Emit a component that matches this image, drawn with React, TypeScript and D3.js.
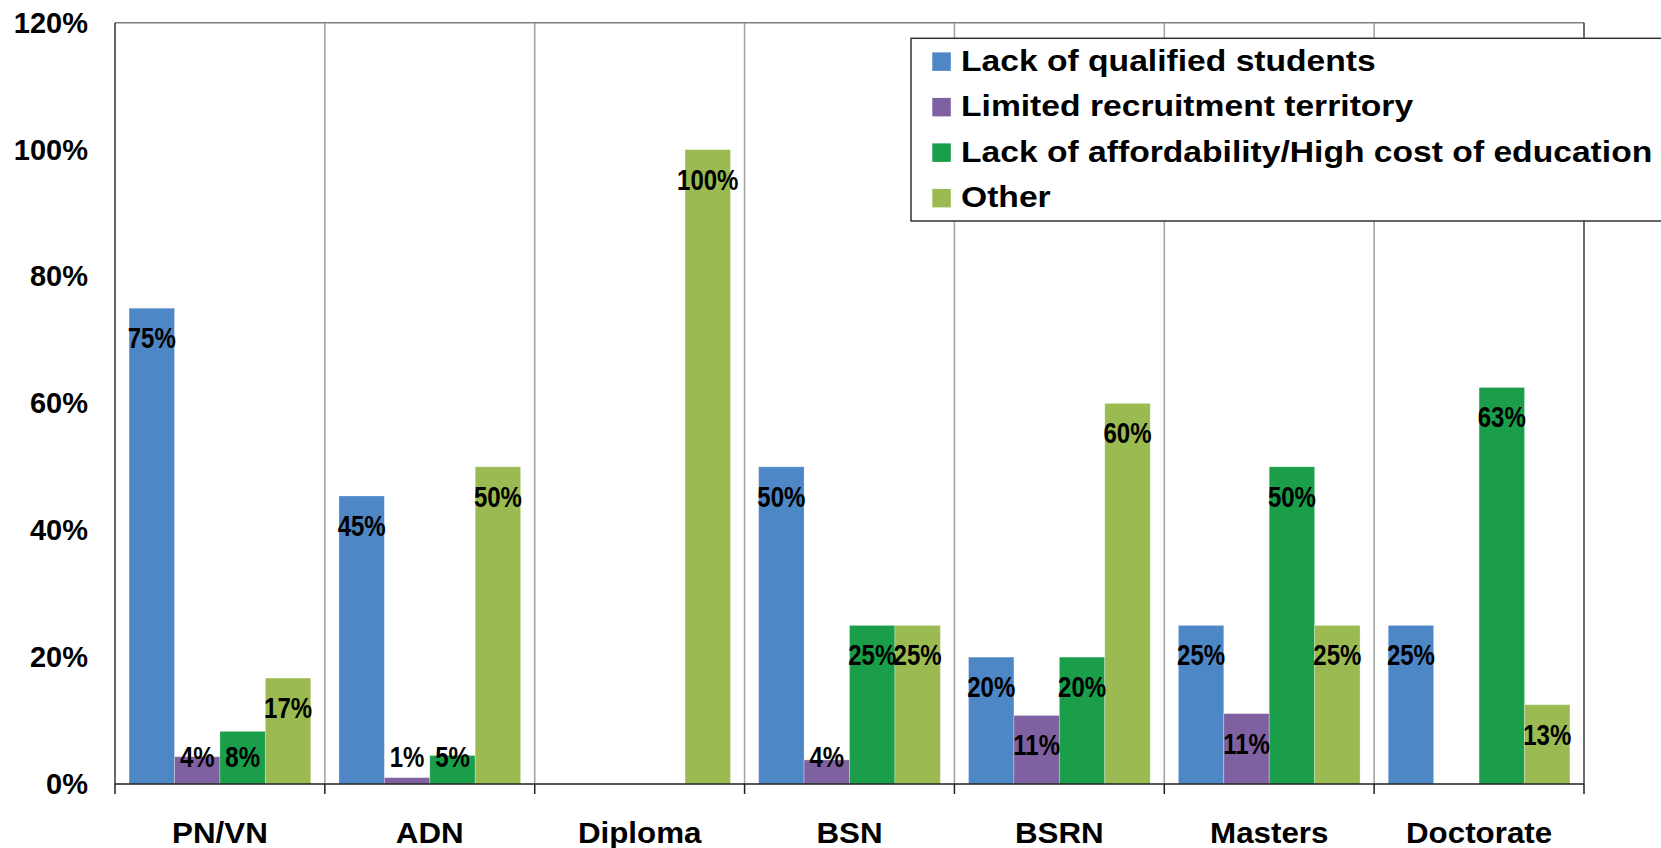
import {useMemo} from "react";
import * as d3 from "d3";

const WIDTH = 1661;
const HEIGHT = 848;
const PLOT = {left: 115, right: 1584, top: 22.7, bottom: 784};

const categories = ["PN/VN", "ADN", "Diploma", "BSN", "BSRN", "Masters", "Doctorate"];
const seriesNames = [
    "Lack of qualified students",
    "Limited recruitment territory",
    "Lack of affordability/High cost of education",
    "Other",
];
const seriesColors = ["#4e87c6", "#7f60a1", "#1a9e4a", "#9bbb52"];

// percent values per degree type (null = no bar)
const lackQualified = [75, 45.4, null, 50, 20, 25, 25];
const limitedTerritory = [4.3, 1.0, null, 3.8, 10.8, 11.1, null];
const affordability = [8.3, 4.5, null, 25, 20, 50, 62.5];
const other = [16.7, 50, 100, 25, 60, 25, 12.5];

const yTicks = [0, 20, 40, 60, 80, 100, 120];

const FONT = "'Liberation Sans', Arial, sans-serif";

export default function App() {
    const seriesValues = [lackQualified, limitedTerritory, affordability, other];

    const x0 = useMemo(() => d3.scaleBand()
        .domain(categories)
        .range([PLOT.left, PLOT.right])
        .paddingInner(0)
        .paddingOuter(0), []);

    const x1 = useMemo(() => d3.scaleBand()
        .domain(seriesNames)
        .range([0, x0.bandwidth()])
        .paddingInner(0)
        .paddingOuter(0.31), [x0]);

    const y = d3.scaleLinear().domain([0, 120]).range([PLOT.bottom, PLOT.top]);

    const boundaries = d3.range(categories.length + 1).map((i) => PLOT.left + i * x0.step());

    const bars = seriesNames.flatMap((name, si) =>
        categories.map((cat, ci) => {
            const v = seriesValues[si][ci];
            if (v === null || v === undefined) return null;
            const bx = (x0(cat) ?? 0) + (x1(name) ?? 0);
            return (
                <rect key={`${si}-${ci}`} x={bx} y={y(v)} width={x1.bandwidth()}
                      height={y(0) - y(v)} fill={seriesColors[si]}
                      stroke="#ffffff" strokeOpacity={0.35} strokeWidth={0.8}/>
            );
        }));

    // labels sit inside the bar end, pushed up when the bar is too short
    const labels = seriesNames.flatMap((name, si) =>
        categories.map((cat, ci) => {
            const v = seriesValues[si][ci];
            if (v === null || v === undefined) return null;
            const cx = (x0(cat) ?? 0) + (x1(name) ?? 0) + x1.bandwidth() / 2;
            const by = Math.min(y(v) + 40, PLOT.bottom - 17);
            return (
                <text key={`l-${si}-${ci}`} transform={`translate(${cx},${by}) scale(0.8,1)`}
                      textAnchor="middle" fontFamily={FONT} fontWeight="bold" fontSize={30} fill="#000">
                    {Math.round(v)}%
                </text>
            );
        }));

    return (
        <svg width={WIDTH} height={HEIGHT} style={{position: "absolute", left: 0, top: 0}}>
            <rect x={0} y={0} width={WIDTH} height={HEIGHT} fill="#fff"/>

            {/* vertical category separators */}
            {boundaries.slice(1, -1).map((bx, i) => (
                <line key={i} x1={bx} x2={bx} y1={PLOT.top} y2={PLOT.bottom} stroke="#a6a6a6" strokeWidth={1.6}/>
            ))}
            <line x1={PLOT.left} x2={PLOT.right} y1={PLOT.top} y2={PLOT.top} stroke="#7f7f7f" strokeWidth={1.5}/>
            <line x1={PLOT.right} x2={PLOT.right} y1={PLOT.top} y2={PLOT.bottom} stroke="#404040" strokeWidth={1.5}/>

            {bars}

            {/* axes */}
            <line x1={PLOT.left} x2={PLOT.left} y1={PLOT.top} y2={PLOT.bottom} stroke="#404040" strokeWidth={1.6}/>
            <line x1={PLOT.left} x2={PLOT.right} y1={PLOT.bottom} y2={PLOT.bottom} stroke="#202020" strokeWidth={1.6}/>
            {boundaries.map((bx, i) => (
                <line key={`t${i}`} x1={bx} x2={bx} y1={PLOT.bottom} y2={PLOT.bottom + 10} stroke="#202020" strokeWidth={1.5}/>
            ))}

            {yTicks.map((t) => (
                <text key={t} x={88} y={y(t) + 10} textAnchor="end" fontFamily={FONT}
                      fontWeight="bold" fontSize={29} fill="#000">{t}%</text>
            ))}

            {categories.map((c) => (
                <text key={c} transform={`translate(${(x0(c) ?? 0) + x0.bandwidth() / 2},842.7) scale(1.08,1)`}
                      textAnchor="middle" fontFamily={FONT} fontWeight="bold" fontSize={29} fill="#000">{c}</text>
            ))}

            {labels}

            {/* legend */}
            <g>
                <rect x={911} y={38.3} width={770} height={182.7} fill="#fff" stroke="#333" strokeWidth={1.5}/>
                {seriesNames.map((name, i) => {
                    const cy = 61.7 + i * 45.5;
                    return (
                        <g key={name}>
                            <rect x={932.3} y={cy - 9.3} width={18.5} height={18.5} fill={seriesColors[i]}/>
                            <text transform={`translate(961,${cy + 9}) scale(1.16,1)`} fontFamily={FONT}
                                  fontWeight="bold" fontSize={29} fill="#000">{name}</text>
                        </g>
                    );
                })}
            </g>
        </svg>
    );
}
